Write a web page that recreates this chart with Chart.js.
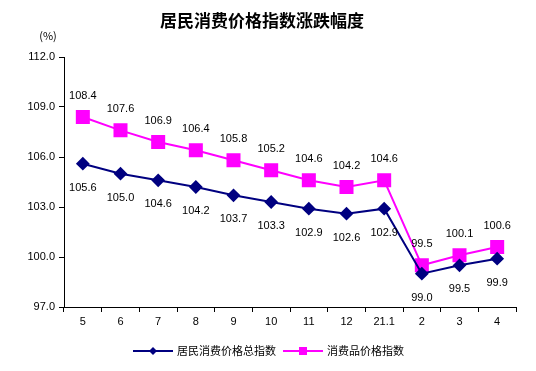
<!DOCTYPE html>
<html>
<head>
<meta charset="utf-8">
<script src="https://cdn.jsdelivr.net/npm/chart.js@4"></script>
<style>
  html, body { margin: 0; padding: 0; background: #fff; }
  #chart { display: block; }
</style>
</head>
<body>
<canvas id="chart" width="536" height="371"></canvas>
<script>
const months = ['5', '6', '7', '8', '9', '10', '11', '12', '21.1', '2', '3', '4'];
const cpiTotal = [105.6, 105.0, 104.6, 104.2, 103.7, 103.3, 102.9, 102.6, 102.9, 99.0, 99.5, 99.9];
const cpiGoods = [108.4, 107.6, 106.9, 106.4, 105.8, 105.2, 104.6, 104.2, 104.6, 99.5, 100.1, 100.6];
const seriesNames = ['居民消费价格总指数', '消费品价格指数'];
const yTicks = [97, 100, 103, 106, 109, 112];

const numFont = '11px "Liberation Sans", Arial, sans-serif';
const cjkFont = '"Noto Sans CJK SC", sans-serif';

// labels, title, unit and legend drawn on the canvas
const extras = {
  id: 'extras',
  afterDatasetsDraw(chart) {
    const ctx = chart.ctx;
    ctx.save();
    ctx.fillStyle = '#000';
    ctx.font = numFont;
    ctx.textAlign = 'center';
    ctx.textBaseline = 'middle';
    chart.data.datasets.forEach((ds, i) => {
      const meta = chart.getDatasetMeta(i);
      meta.data.forEach((pt, j) => {
        const dy = i === 0 ? 24 : -21;
        ctx.fillText(ds.data[j].toFixed(1), pt.x, pt.y + dy);
      });
    });

    // title
    ctx.font = 'bold 17px ' + cjkFont;
    ctx.fillText('居民消费价格指数涨跌幅度', 262, 21);

    // unit
    ctx.font = '11px ' + cjkFont;
    ctx.fillText('(%)', 48, 36);

    // legend
    const y = 351;
    let x = 133;
    chart.data.datasets.forEach((ds, i) => {
      ctx.strokeStyle = ds.borderColor;
      ctx.lineWidth = 2;
      ctx.beginPath();
      ctx.moveTo(x, y);
      ctx.lineTo(x + 40, y);
      ctx.stroke();
      ctx.fillStyle = ds.borderColor;
      ctx.beginPath();
      if (i === 0) {
        ctx.moveTo(x + 20, y - 4);
        ctx.lineTo(x + 24, y);
        ctx.lineTo(x + 20, y + 4);
        ctx.lineTo(x + 16, y);
        ctx.closePath();
        ctx.fill();
      } else {
        ctx.fillRect(x + 16, y - 4, 8, 8);
      }
      ctx.fillStyle = '#000';
      ctx.font = '11px ' + cjkFont;
      ctx.textAlign = 'left';
      ctx.fillText(seriesNames[i], x + 44, y);
      x += 44 + ctx.measureText(seriesNames[i]).width + 7;
    });
    ctx.restore();
  }
};

new Chart(document.getElementById('chart'), {
  type: 'line',
  data: {
    labels: months,
    datasets: [
      {
        label: seriesNames[0],
        data: cpiTotal,
        borderColor: '#000080',
        backgroundColor: '#000080',
        borderWidth: 2,
        pointStyle: 'rectRot',
        pointRadius: 5.5,
        pointHoverRadius: 5.5,
        tension: 0
      },
      {
        label: seriesNames[1],
        data: cpiGoods,
        borderColor: '#ff00ff',
        backgroundColor: '#ff00ff',
        borderWidth: 2,
        pointStyle: 'rect',
        pointRadius: 8.5,
        pointHoverRadius: 8.5,
        tension: 0
      }
    ]
  },
  options: {
    responsive: false,
    animation: false,
    events: [],
    layout: { padding: { top: 57, right: 20, left: 0, bottom: 0 } },
    plugins: {
      legend: { display: false },
      title: { display: false },
      tooltip: { enabled: false }
    },
    scales: {
      x: {
        offset: true,
        afterFit(scale) { scale.height = 64; },
        grid: {
          offset: true,
          drawOnChartArea: false,
          tickLength: 5,
          color: '#000'
        },
        border: { color: '#000', width: 1 },
        ticks: { color: '#000', font: { family: 'Liberation Sans', size: 11 }, padding: 3 }
      },
      y: {
        min: 97,
        max: 112,
        afterFit(scale) { scale.width = 64; },
        afterBuildTicks(scale) { scale.ticks = yTicks.map(v => ({ value: v })); },
        grid: {
          drawOnChartArea: false,
          tickLength: 5,
          color: '#000'
        },
        border: { color: '#000', width: 1 },
        ticks: {
          color: '#000',
          font: { family: 'Liberation Sans', size: 11 },
          padding: 4,
          callback: v => v.toFixed(1)
        }
      }
    }
  },
  plugins: [extras]
});
</script>
</body>
</html>
